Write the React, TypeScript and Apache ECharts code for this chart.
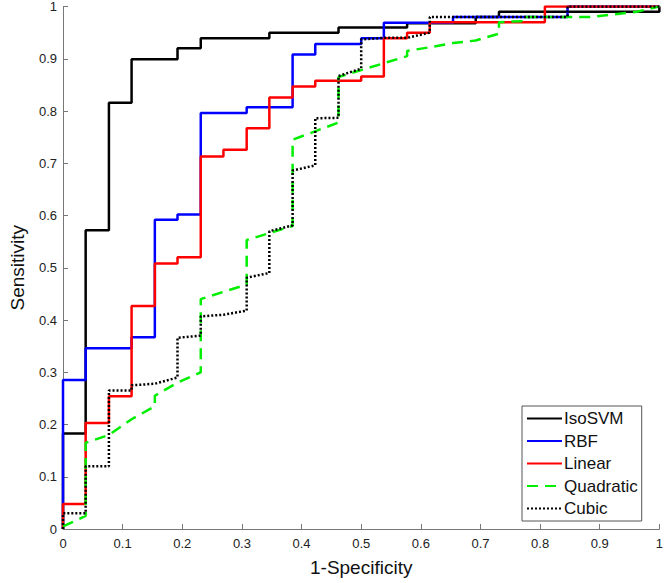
import React, { useEffect, useRef } from "react";
import * as echarts from "echarts";

const seriesNames = ["IsoSVM", "RBF", "Linear", "Quadratic", "Cubic"];

// step curves: [FPR, TPR level reached at that FPR]
const isoSvm: number[][] = [
  [0, 0], [0, 0.183], [0.038, 0.572], [0.077, 0.816], [0.115, 0.899], [0.192, 0.92],
  [0.231, 0.939], [0.346, 0.95], [0.462, 0.96], [0.577, 0.968], [0.692, 0.98], [0.731, 0.99], [1, 1],
];
const rbf: number[][] = [
  [0, 0], [0, 0.285], [0.038, 0.346], [0.115, 0.367], [0.154, 0.592], [0.192, 0.602],
  [0.231, 0.796], [0.308, 0.807], [0.385, 0.908], [0.423, 0.928], [0.5, 0.939], [0.538, 0.969],
  [0.654, 0.98], [0.846, 1], [1, 1],
];
const linear: number[][] = [
  [0, 0], [0, 0.048], [0.038, 0.203], [0.077, 0.254], [0.115, 0.427], [0.154, 0.508], [0.192, 0.52],
  [0.231, 0.713], [0.269, 0.726], [0.308, 0.767], [0.346, 0.826], [0.385, 0.847], [0.423, 0.858],
  [0.5, 0.866], [0.538, 0.939], [0.577, 0.95], [0.615, 0.97], [0.808, 1], [1, 1],
];
// curves with sloped segments: explicit vertices
const quadratic: number[][] = [
  [0, 0.005], [0.038, 0.025], [0.038, 0.165], [0.077, 0.18], [0.115, 0.21], [0.154, 0.235],
  [0.154, 0.255], [0.192, 0.28], [0.231, 0.3], [0.231, 0.44], [0.308, 0.468], [0.308, 0.553],
  [0.385, 0.58], [0.385, 0.745], [0.462, 0.778], [0.462, 0.865], [0.577, 0.905], [0.577, 0.915],
  [0.615, 0.922], [0.654, 0.93], [0.692, 0.935], [0.731, 0.948], [0.731, 0.97], [0.769, 0.972],
  [0.769, 0.98], [0.885, 0.98], [0.962, 0.99], [1, 1],
];
const cubic: number[][] = [
  [0, 0], [0, 0.03], [0.038, 0.03], [0.038, 0.12], [0.077, 0.12], [0.077, 0.265], [0.115, 0.265],
  [0.115, 0.275], [0.154, 0.278], [0.192, 0.29], [0.192, 0.366], [0.231, 0.37], [0.231, 0.407],
  [0.269, 0.41], [0.308, 0.418], [0.308, 0.481], [0.346, 0.49], [0.346, 0.57], [0.385, 0.581],
  [0.385, 0.686], [0.423, 0.696], [0.423, 0.786], [0.462, 0.787], [0.462, 0.867], [0.5, 0.881],
  [0.5, 0.937], [0.538, 0.94], [0.577, 0.94], [0.615, 0.95], [0.615, 0.98], [0.846, 0.98],
  [0.846, 1], [1, 1],
];

const FONT = "'Liberation Sans', Arial, sans-serif";

export default function App() {
  const ref = useRef<HTMLDivElement>(null);
  useEffect(() => {
    const chart = echarts.init(ref.current!, undefined, { renderer: "svg" });
    const axisCommon = {
      type: "value" as const,
      min: 0,
      max: 1,
      interval: 0.1,
      splitLine: { show: false },
      axisLine: { show: true, lineStyle: { color: "#777", width: 1 } },
      axisTick: { show: true, inside: true, length: 5, lineStyle: { color: "#777" } },
      axisLabel: { color: "#222", fontSize: 13, fontFamily: FONT },
      nameLocation: "middle" as const,
      nameTextStyle: { color: "#111", fontSize: 19, fontFamily: FONT },
    };
    chart.setOption({
      animation: false,
      backgroundColor: "#fff",
      grid: { left: 56.5, right: 4.5, top: 5.7, bottom: 54 },
      xAxis: { ...axisCommon, name: "1-Specificity", nameGap: 29, axisLabel: { ...axisCommon.axisLabel, margin: 8 } },
      yAxis: { ...axisCommon, name: "Sensitivity", nameGap: 36, axisLabel: { ...axisCommon.axisLabel, margin: 6 } },
      legend: {
        data: seriesNames,
        orient: "vertical",
        left: 522,
        top: 406,
        width: 119,
        padding: [4, 4, 4, 4],
        itemWidth: 35,
        itemHeight: 10,
        itemGap: 5.5,
        borderColor: "#555",
        borderWidth: 1,
        backgroundColor: "#fff",
        itemStyle: { opacity: 0 },
        textStyle: { fontSize: 17, fontFamily: FONT, color: "#111", padding: [0, 0, 0, -3] },
      },
      series: [
        { name: "IsoSVM", type: "line", data: isoSvm, step: "end", symbol: "none", lineStyle: { color: "#000", width: 2.5 }, itemStyle: { color: "#000" } },
        { name: "RBF", type: "line", data: rbf, step: "end", symbol: "none", lineStyle: { color: "#0000ff", width: 2.5 }, itemStyle: { color: "#0000ff" } },
        { name: "Linear", type: "line", data: linear, step: "end", symbol: "none", lineStyle: { color: "#ff0000", width: 2.5 }, itemStyle: { color: "#ff0000" } },
        { name: "Quadratic", type: "line", data: quadratic, symbol: "none", lineStyle: { color: "#00ee00", width: 2.5, type: [11, 7] }, itemStyle: { color: "#00ee00" } },
        { name: "Cubic", type: "line", data: cubic, symbol: "none", lineStyle: { color: "#000", width: 2.5, type: [2, 2] }, itemStyle: { color: "#000" } },
      ],
    });
    return () => chart.dispose();
  }, []);
  return <div ref={ref} style={{ width: 666, height: 583, position: "fixed", left: 0, top: 0 }} />;
}
